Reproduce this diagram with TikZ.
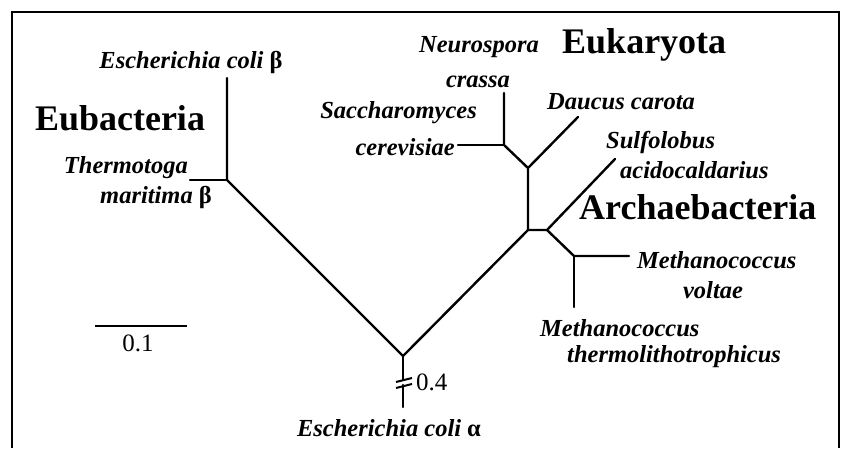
\documentclass[tikz,border=0pt]{standalone}
\usepackage{fontspec}
\setmainfont{Liberation Serif}
\usetikzlibrary{calc}

\begin{document}
\begin{tikzpicture}[x=1pt,y=-1pt,
  br/.style={line width=2.4pt,line cap=round},
  fr/.style={line width=1.3pt},
  sp/.style={font=\fontsize{24.5}{26}\selectfont\bfseries\itshape,inner sep=0pt},
  grp/.style={font=\fontsize{36}{38}\selectfont\bfseries,inner sep=0pt},
  num/.style={font=\fontsize{25}{27}\selectfont,inner sep=0pt}]
\useasboundingbox (0,0) rectangle (842,448);
\draw[fr] (12,448) -- (12,12) -- (839,12) -- (839,448);
% branch points and tips
\coordinate (root) at (403,356);
\coordinate (eub) at (227,180);
\coordinate (ecb) at (227,78);
\coordinate (tmb) at (190,180);
\coordinate (arc) at (528,230);
\coordinate (euk) at (528,168);
\coordinate (dau) at (578,117);
\coordinate (ncf) at (504,145);
\coordinate (neu) at (504,93);
\coordinate (sac) at (458,145);
\coordinate (arj) at (547,230);
\coordinate (sul) at (615,159);
\coordinate (mcf) at (574,256);
\coordinate (mvo) at (629,256);
\coordinate (mth) at (574,307);
\coordinate (brk) at (403,383);
\coordinate (eca) at (403,407);
% tree
\draw[br] (ecb) -- (eub) -- (root) -- (arc) -- (euk) -- (dau);
\draw[br] (tmb) -- (eub);
\draw[br] (euk) -- (ncf) -- (neu);
\draw[br] (sac) -- (ncf);
\draw[br] (arc) -- (arj) -- (sul);
\draw[br] (arj) -- (mcf) -- (mvo);
\draw[br] (mcf) -- (mth);
% broken stem, 0.4
\draw[br] (root) -- ($(brk)+(0,-3)$);
\draw[br] ($(brk)+(0,2)$) -- (eca);
\draw[line width=2pt] ($(brk)+(-7,-1)$) -- ($(brk)+(9,-5)$);
\draw[line width=2pt] ($(brk)+(-7,5)$) -- ($(brk)+(9,1)$);
\node[num,anchor=west] (l04) at (416,382) {0.4};
% labels
\node[sp] (tecb) at (191,62) {Escherichia coli {\upshape β}};
\node[grp] (teub) at (120,118) {Eubacteria};
\node[sp,anchor=east] (ttm1) at (188,168) {Thermotoga};
\node[sp,anchor=west] (ttm2) at (100,197) {maritima {\upshape β}};
\node[sp] (tnc1) at (479,47) {Neurospora};
\node[sp] (tnc2) at (478,82) {crassa};
\node[grp,anchor=west] (teuk) at (562,45) {Eukaryota};
\node[sp,anchor=east] (tsc1) at (477,113) {Saccharomyces};
\node[sp,anchor=east] (tsc2) at (455,147) {cerevisiae};
\node[sp,anchor=west] (tdau) at (547,102) {Daucus carota};
\node[sp,anchor=west] (tsa1) at (606,142) {Sulfolobus};
\node[sp,anchor=west] (tsa2) at (620,170) {acidocaldarius};
\node[grp,anchor=west] (tarc) at (579,207) {Archaebacteria};
\node[sp,anchor=west] (tmv1) at (637,260) {Methanococcus};
\node[sp] (tmv2) at (713,290) {voltae};
\node[sp,anchor=west] (tmt1) at (540,328) {Methanococcus};
\node[sp,anchor=west] (tmt2) at (567,357) {thermolithotrophicus};
\node[sp] (teca) at (389,428) {Escherichia coli {\upshape α}};
% scale bar
\coordinate (sb1) at (95,326);
\coordinate (sb2) at (187,326);
\draw[line width=2pt] (sb1) -- (sb2);
\node[num] (l01) at (138,343) {0.1};
\end{tikzpicture}
\end{document}
